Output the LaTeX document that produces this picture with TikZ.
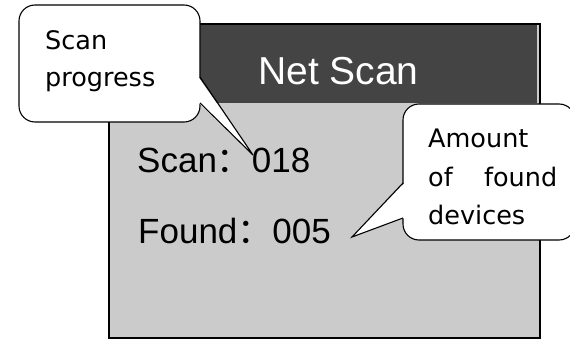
\documentclass[tikz,border=0pt]{standalone}
\usepackage{fontspec}
\newfontfamily\lsans{Liberation Sans}
\newfontfamily\dv{DejaVu Sans}
\newfontfamily\cjk{Noto Sans CJK SC}
\definecolor{band}{HTML}{444444}
\definecolor{screen}{HTML}{CBCBCB}
\begin{document}
\begin{tikzpicture}[x=1pt,y=-1pt,
  calloutbox/.style={draw=black, fill=white, line width=1.1pt, rounded corners=16pt},
  wedgeline/.style={draw=black, line width=1.1pt, line join=miter},
  calltext/.style={anchor=base west, inner sep=0pt, font={\dv\fontsize{25.5}{25.5}\selectfont}},
  screentext/.style={anchor=base west, inner sep=0pt, font={\lsans\fontsize{35}{35}\selectfont}},
  titletext/.style={anchor=base west, inner sep=0pt, text=white, font={\lsans\fontsize{39}{39}\selectfont}}]
\useasboundingbox (0,0) rectangle (570,339);
% screen
\fill[screen] (109,24) rectangle (540,338);
\fill[band] (109,24) rectangle (537,103);
\draw[line width=1.6pt] (109,24) rectangle (540,338);
\node[titletext] (title) at (258,85) {Net Scan};
\node[screentext] (scan) at (137,173) {Scan{\cjk ：}018};
\node[screentext] (found) at (138,243) {Found{\cjk ：}005};
% callout 1
\coordinate (tipA) at (253,155);
\coordinate (a1) at (200,77);
\coordinate (a2) at (200,103);
\draw[calloutbox] (19,5) rectangle (200,122);
\fill[white] (198.5,77) -- (tipA) -- (198.5,103) -- cycle;
\draw[wedgeline] (a1) -- (tipA) -- (a2);
\node[calltext] (c1a) at (45,50) {Scan};
\node[calltext] (c1b) at (45,87) {progress};
% callout 2
\coordinate (tipB) at (352,237);
\coordinate (b1) at (403,183);
\coordinate (b2) at (403,218);
\draw[calloutbox] (403,104) rectangle (575,240);
\fill[white] (404.5,183) -- (tipB) -- (404.5,218) -- cycle;
\draw[wedgeline] (b1) -- (tipB) -- (b2);
\node[calltext] (c2a) at (428,148) {Amount};
\node[calltext] (c2b) at (428,186) {\makebox[129pt][s]{of found}};
\node[calltext] (c2c) at (428,224) {devices};
\end{tikzpicture}
\end{document}
